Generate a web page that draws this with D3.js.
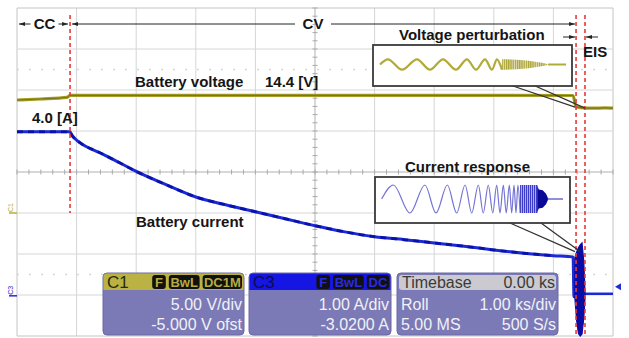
<!DOCTYPE html>
<html>
<head>
<meta charset="utf-8">
<script src="https://cdn.jsdelivr.net/npm/d3@7"></script>
<style>
  body { margin: 0; background: #fff; }
  svg { display: block; font-family: "Liberation Sans", Arial, sans-serif; }
</style>
</head>
<body>
<svg id="chart" width="629" height="338"></svg>
<script>
// ---- scope settings ----
const timeDivs = d3.range(0, 11);            // 1.00 ks/div, 10 div
const voltDivs = d3.range(-15, 26, 5);       // 5.00 V/div, -5 V offset
const dottedLevels = [17.5, -7.5];           // faint reference rows (V)
const phaseMarks = [0.89, 9.38, 9.53];       // CC->CV, EIS start, EIS end (ks)

// battery voltage C1 (ks, V)
const voltT = [0, 0.4, 0.84, 0.89, 3, 6, 9.33, 9.38, 9.45, 9.53, 9.7, 9.85, 10];
const voltV = [13.78, 13.9, 14.09, 14.35, 14.35, 14.35, 14.33, 12.95, 12.85, 12.8, 12.78, 12.82, 12.78];

// battery current C3 (ks, A)
const currT = [0, 0.89, 0.92, 1.0, 1.06, 1.39, 1.73, 1.95, 2.5, 3.0, 3.5, 4.0, 4.5, 5.0, 5.5, 6.0, 6.5, 7.0, 7.5, 8.0, 8.5, 9.0, 9.33, 9.345, 9.37];
const currA = [4.0, 4.0, 3.92, 3.8, 3.73, 3.49, 3.24, 3.07, 2.71, 2.41, 2.22, 2.05, 1.88, 1.71, 1.56, 1.44, 1.37, 1.29, 1.21, 1.12, 1.04, 0.98, 0.95, -0.02, -0.02];
const currPostT = [9.53, 10];
const currPostA = [0.05, 0.05];

// EIS burst envelope (ks, A)
const eisT = [9.36, 9.39, 9.42, 9.45, 9.48, 9.51, 9.53];
const eisHi = [0.93, 1.07, 1.17, 1.24, 1.29, 0.83, 0.1];
const eisLo = [-0.05, -0.6, -0.92, -0.98, -0.93, -0.54, -0.05];

// inset: voltage perturbation (position 0-100 across box, normalised value)
const vWaveU = [3.5, 7.5, 14.6, 22.1, 28.6, 35.2, 41.7, 47.2, 51.8, 56.3, 59.8, 62.3, 64.8];
const vWaveV = [0, 1, -1, 1, -1, 1, -1, 1, -1, 1, -1, 1, -1];
const vDenseU = [64.8, 66, 72, 78, 83, 86, 88.5];
const vDenseA = [1, 1, 0.9, 0.7, 0.45, 0.25, 0];
const vTailU = [88, 97];

// inset: current response
const iWaveU = [3.4, 9.4, 17.9, 25.6, 31.3, 37.1, 41.9, 46.2, 49.6, 53, 55.5, 58.1, 60.4, 62.4, 64.1, 65.8, 67.3, 68.9, 70.1, 71.3, 72.3, 73.3, 74.4];
const iWaveV = [0, 1, -1, 1, -1, 1, -1, 1, -1, 1, -1, 1, -1, 1, -1, 1, -1, 1, -1, 1, -1, 1, -1];
const iDenseU = [74.4, 75.2, 80, 83.6];
const iDenseA = [1, 1, 1, 1];
const iBlobU = [83.2, 84, 86, 87.7, 88.9];
const iBlobA = [0.95, 0.68, 0.62, 0.38, 0];
const iTailU = [88.5, 96.4];

// info panel texts
const c1Badges = ["F", "BwL", "DC1M"];
const c3Badges = ["F", "BwL", "DC"];
const c1Lines = ["5.00 V/div", "-5.000 V ofst"];
const c3Lines = ["1.00 A/div", "-3.0200 A"];
const tbHeader = ["Timebase", "0.00 ks"];
const tbLines = [["Roll", "1.00 ks/div"], ["5.00 MS", "500 S/s"]];

// ---- layout ----
const svg = d3.select("#chart");
const x = d3.scaleLinear().domain([0, 10]).range([17, 613]);
const yV = d3.scaleLinear().domain([-15, 25]).range([336, 8]);
const yI = d3.scaleLinear().domain([-0.98, 7.02]).range([336, 8]);

svg.append("rect").attr("width", 629).attr("height", 338).attr("fill", "#fff");

const defs = svg.append("defs");
function stripes(id, color, period) {
  const p = defs.append("pattern").attr("id", id).attr("patternUnits", "userSpaceOnUse")
    .attr("width", period).attr("height", 10);
  p.append("rect").attr("width", period).attr("height", 10).attr("fill", "#fff").attr("opacity", 0);
  p.append("rect").attr("width", period * 0.55).attr("height", 10).attr("fill", color);
}
stripes("vStripe", "#aaa232", 2.2);
stripes("iStripe", "#3c3cc8", 2);

// grid
const grid = svg.append("g");
grid.selectAll(".vg").data(timeDivs).enter().append("line")
  .attr("x1", d => x(d)).attr("x2", d => x(d))
  .attr("y1", yV(25)).attr("y2", yV(-15))
  .attr("stroke", d => (d === 0 || d === 10) ? "#c4c4c4" : "#d6d6d6").attr("stroke-width", 1);
grid.selectAll(".hg").data(voltDivs).enter().append("line")
  .attr("y1", d => yV(d)).attr("y2", d => yV(d))
  .attr("x1", x(0)).attr("x2", x(10))
  .attr("stroke", d => (d === -15 || d === 25) ? "#c4c4c4" : "#d6d6d6").attr("stroke-width", 1);
grid.selectAll(".dl").data(dottedLevels).enter().append("line")
  .attr("y1", d => yV(d)).attr("y2", d => yV(d))
  .attr("x1", x(0)).attr("x2", x(10))
  .attr("stroke", "#d6d6d6").attr("stroke-width", 1.5).attr("stroke-dasharray", "2,10");

// center axes with minor ticks
grid.append("line").attr("x1", x(5)).attr("x2", x(5)).attr("y1", yV(25)).attr("y2", yV(-15))
  .attr("stroke", "#c4c4c4");
grid.append("line").attr("y1", yV(5)).attr("y2", yV(5)).attr("x1", x(0)).attr("x2", x(10))
  .attr("stroke", "#c4c4c4");
grid.selectAll(".mt").data(d3.range(-15, 25.01, 1)).enter().append("line")
  .attr("x1", x(5) - 2.5).attr("x2", x(5) + 2.5)
  .attr("y1", d => yV(d)).attr("y2", d => yV(d)).attr("stroke", "#aaa");
grid.selectAll(".mt2").data(d3.range(0, 10.01, 0.2)).enter().append("line")
  .attr("y1", yV(5) - 2.5).attr("y2", yV(5) + 2.5)
  .attr("x1", d => x(d)).attr("x2", d => x(d)).attr("stroke", "#aaa");

// channel ground markers on the left
svg.append("line").attr("x1", 9).attr("x2", x(0)).attr("y1", yV(0)).attr("y2", yV(0))
  .attr("stroke", "#b5ad3a").attr("stroke-width", 1.5);
svg.append("text").attr("transform", `translate(13,${yV(0) - 1}) rotate(-90)`)
  .attr("font-size", 7).attr("fill", "#b5ad3a").text("C1");
svg.append("line").attr("x1", 9).attr("x2", x(0)).attr("y1", yI(0)).attr("y2", yI(0))
  .attr("stroke", "#2a2ad0").attr("stroke-width", 1.5);
svg.append("text").attr("transform", `translate(13,${yI(0) - 1}) rotate(-90)`)
  .attr("font-size", 7).attr("fill", "#2a2ad0").text("C3");

// trigger marker on the right
svg.append("path")
  .attr("d", `M${x(10) + 2},${yI(0.22)} l6,-3.5 l0,7 z`)
  .attr("fill", "#2030d0");

// traces
const line = (tt, vv, ys) => d3.line()
  .x((d, i) => x(tt[i])).y((d, i) => ys(vv[i]))
  .curve(d3.curveMonotoneX)(tt);

svg.append("path").attr("d", line(voltT, voltV, yV))
  .attr("fill", "none").attr("stroke", "#a69e26").attr("stroke-width", 3.2);
svg.append("path").attr("d", line(voltT, voltV, yV))
  .attr("fill", "none").attr("stroke", "#7d7618").attr("stroke-width", 1.2);

svg.append("path").attr("d", line(currT, currA, yI))
  .attr("fill", "none").attr("stroke", "#1a2ad6").attr("stroke-width", 3);
svg.append("path").attr("d", line(currT.slice(0, 22), currA.slice(0, 22), yI))
  .attr("fill", "none").attr("stroke", "#00008c").attr("stroke-width", 3)
  .attr("stroke-dasharray", "6,5").attr("opacity", 0.6);
svg.append("path").attr("d", line(currPostT, currPostA, yI))
  .attr("fill", "none").attr("stroke", "#1a2ad6").attr("stroke-width", 2.5);

svg.append("path")
  .attr("d", d3.area()
    .x((d, i) => x(eisT[i])).y0((d, i) => yI(eisLo[i])).y1((d, i) => yI(eisHi[i]))
    .curve(d3.curveLinear)(eisT))
  .attr("fill", "#0b0ba6").attr("stroke", "#0b0ba6").attr("stroke-width", 1.2);

// phase markers (red dashed)
svg.selectAll(".pm").data(phaseMarks).enter().append("line")
  .attr("x1", d => x(d)).attr("x2", d => x(d))
  .attr("y1", 15).attr("y2", (d, i) => i === 0 ? yV(0) : yV(-15) - 1)
  .attr("stroke", "#e8393c").attr("stroke-width", 1.6).attr("stroke-dasharray", "4,3");

// arrows
defs.append("marker").attr("id", "ah").attr("viewBox", "0 0 10 10")
  .attr("refX", 10).attr("refY", 5).attr("markerWidth", 6).attr("markerHeight", 6)
  .attr("orient", "auto-start-reverse")
  .append("path").attr("d", "M0,1.5 L10,5 L0,8.5 z").attr("fill", "#222");

function arrow(x1, y1, x2, y2) {
  svg.append("line").attr("x1", x1).attr("y1", y1).attr("x2", x2).attr("y2", y2)
    .attr("stroke", "#222").attr("stroke-width", 1).attr("marker-end", "url(#ah)");
}

const labelY = 24;
const bold = (t, xx, yy, anchor) => svg.append("text").attr("x", xx).attr("y", yy)
  .attr("text-anchor", anchor || "start").attr("font-size", 15).attr("font-weight", "bold")
  .attr("fill", "#151515").text(t);

const ccMid = x((phaseMarks[0]) / 2) + 1;
bold("CC", ccMid, labelY + 5, "middle");
arrow(ccMid - 14, labelY, x(0) + 2, labelY);
arrow(ccMid + 14, labelY, x(phaseMarks[0]) - 2, labelY);
bold("CV", 313, labelY + 5, "middle");
arrow(295, labelY, x(phaseMarks[0]) + 2, labelY);
arrow(331, labelY, x(phaseMarks[1]) - 1, labelY);
arrow(x(phaseMarks[1]) - 13, 37, x(phaseMarks[1]) - 1, 37);
arrow(x(phaseMarks[2]) + 13, 37, x(phaseMarks[2]) + 1, 37);
bold("EIS", 583, 57);

bold("Battery voltage", 135, 87);
bold("14.4 [V]", 265, 87);
bold("4.0 [A]", 32, 123);
bold("Battery current", 136, 227);
bold("Voltage perturbation", 399, 40);
bold("Current response", 405, 172);

// insets
function inset(box, cy, amp) {
  const ix = d3.scaleLinear().domain([0, 100]).range([box[0], box[1]]);
  const iy = d3.scaleLinear().domain([-1, 1]).range([cy + amp, cy - amp]);
  svg.append("rect").attr("x", box[0]).attr("y", box[2])
    .attr("width", box[1] - box[0]).attr("height", box[3] - box[2])
    .attr("fill", "#fff").attr("stroke", "#3a3a3a").attr("stroke-width", 1.8);
  return { ix, iy };
}
function wave(s, uu, vv, color, w) {
  svg.append("path").attr("d", d3.line().x((d, i) => s.ix(uu[i])).y((d, i) => s.iy(vv[i]))
    .curve(d3.curveMonotoneX)(uu))
    .attr("fill", "none").attr("stroke", color).attr("stroke-width", w);
}
function band(s, uu, aa, fill, op) {
  svg.append("path").attr("d", d3.area().x((d, i) => s.ix(uu[i]))
    .y0((d, i) => s.iy(-aa[i])).y1((d, i) => s.iy(aa[i]))
    .curve(d3.curveLinear)(uu))
    .attr("fill", fill).attr("opacity", op);
}

// connector lines to the EIS section
const conn = (x1, y1, x2, y2) => svg.append("line").attr("x1", x1).attr("y1", y1)
  .attr("x2", x2).attr("y2", y2).attr("stroke", "#333").attr("stroke-width", 1.3);
conn(510, 85, x(phaseMarks[1]) - 1, yV(12.9));
conn(533, 85, x(phaseMarks[2]), yV(12.8));
conn(510, 223, x(phaseMarks[1]) - 1, yI(1.08));
conn(541, 223, x(phaseMarks[1]) + 4, yI(1.08));

const vs = inset([373, 572, 45, 86], 64.5, 5.2);
wave(vs, vWaveU, vWaveV, "#b2aa38", 2.2);
band(vs, vDenseU, vDenseA, "#cfc98a", 0.6);
band(vs, vDenseU, vDenseA, "url(#vStripe)", 1);
wave(vs, vTailU, [0, 0], "#b2aa38", 2);

const is = inset([375, 570, 177, 223], 199, 14);
wave(is, iWaveU, iWaveV, "#7474d6", 1.2);
band(is, iDenseU, iDenseA, "#9a9ae0", 0.7);
band(is, iDenseU, iDenseA, "url(#iStripe)", 1);
band(is, iBlobU, iBlobA, "#0a0a96", 1);
wave(is, iTailU, [0, 0], "#5252cc", 1.3);

// info panels
function panel(x0, x1) {
  svg.append("rect").attr("x", x0).attr("y", 273).attr("width", x1 - x0).attr("height", 62)
    .attr("rx", 4).attr("fill", "#7b7ab6").attr("stroke", "#6a69a6");
}
function header(x0, x1, color) {
  svg.append("path")
    .attr("d", `M${x0 + 0.5},290 V277 q0,-3.5 3.5,-3.5 H${x1 - 4} q3.5,0 3.5,3.5 V290 z`)
    .attr("fill", color);
}
function badges(names, right, fg) {
  let xr = right - 2;
  const ws = names.map(n => n.length * 8.6 + 5);
  for (let k = names.length - 1; k >= 0; k--) {
    const w = ws[k];
    svg.append("rect").attr("x", xr - w).attr("y", 275).attr("width", w).attr("height", 14)
      .attr("rx", 3).attr("fill", "#111");
    svg.append("text").attr("x", xr - w / 2).attr("y", 287).attr("text-anchor", "middle")
      .attr("font-size", 13).attr("font-weight", "bold").attr("fill", fg).text(names[k]);
    xr -= w + 3;
  }
}
const bodyText = (t, xx, yy, anchor) => svg.append("text").attr("x", xx).attr("y", yy)
  .attr("text-anchor", anchor).attr("font-size", 16).attr("fill", "#f1f1f7").text(t);

panel(103, 244);
header(103, 244, "#bab243");
svg.append("text").attr("x", 107).attr("y", 288).attr("font-size", 17).attr("fill", "#2b2a10").text("C1");
badges(c1Badges, 244, "#b4ac40");
c1Lines.forEach((t, k) => bodyText(t, 242, 310 + k * 20, "end"));

panel(249, 391);
header(249, 391, "#1616e4");
svg.append("text").attr("x", 253).attr("y", 288).attr("font-size", 17).attr("fill", "#0c0c50").text("C3");
badges(c3Badges, 391, "#2a2ae0");
c3Lines.forEach((t, k) => bodyText(t, 389, 310 + k * 20, "end"));

panel(397, 558);
svg.append("rect").attr("x", 399).attr("y", 275).attr("width", 157).attr("height", 15)
  .attr("rx", 3).attr("fill", "#cacad0");
svg.append("text").attr("x", 402).attr("y", 288).attr("font-size", 16).attr("fill", "#3a3a3a").text(tbHeader[0]);
svg.append("text").attr("x", 555).attr("y", 288).attr("text-anchor", "end")
  .attr("font-size", 16).attr("fill", "#3a3a3a").text(tbHeader[1]);
tbLines.forEach((r, k) => {
  bodyText(r[0], 401, 310 + k * 20, "start");
  bodyText(r[1], 556, 310 + k * 20, "end");
});
</script>
</body>
</html>
